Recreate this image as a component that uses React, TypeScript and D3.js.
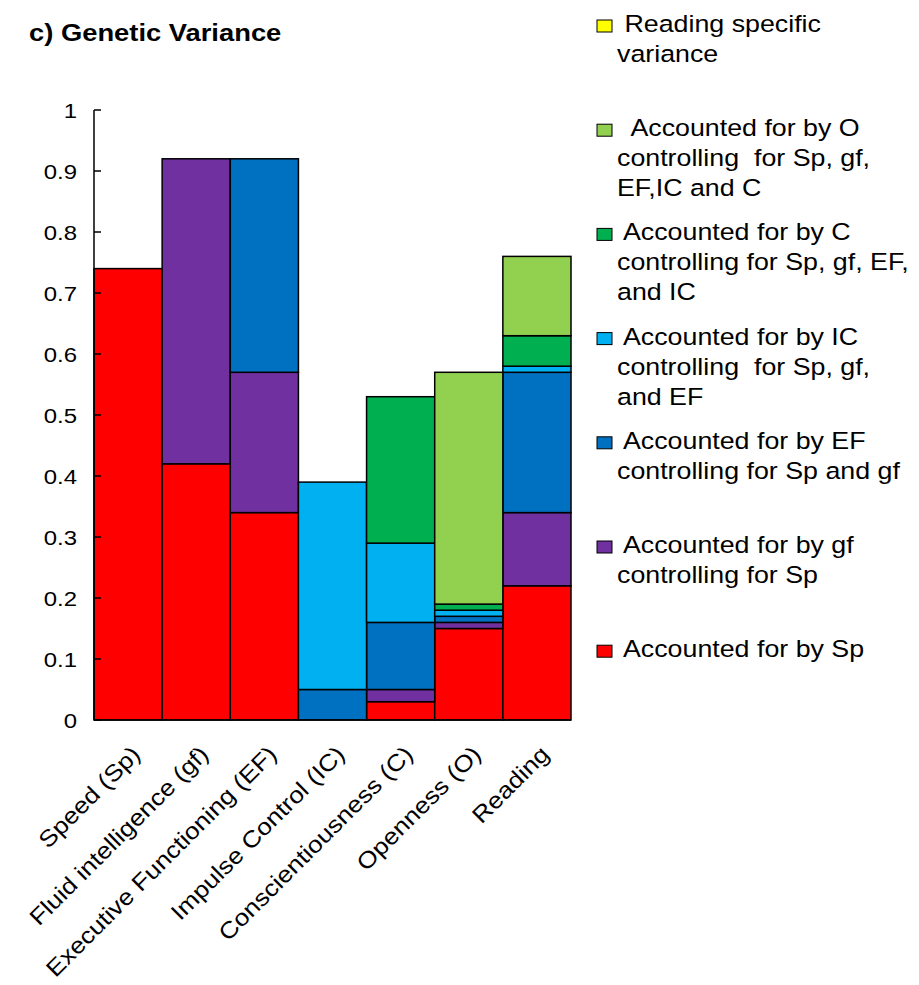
import React from "react";
import * as d3 from "d3";

const categories = [
  "Speed (Sp)",
  "Fluid intelligence (gf)",
  "Executive Functioning (EF)",
  "Impulse Control (IC)",
  "Conscientiousness (C)",
  "Openness (O)",
  "Reading",
];

const seriesKeys = ["sp", "gf", "ef", "ic", "c", "o", "rs"];
const sp = [0.74, 0.42, 0.34, 0, 0.03, 0.15, 0.22];
const gf = [0, 0.5, 0.23, 0, 0.02, 0.01, 0.12];
const ef = [0, 0, 0.35, 0.05, 0.11, 0.01, 0.23];
const ic = [0, 0, 0, 0.34, 0.13, 0.01, 0.01];
const cc = [0, 0, 0, 0, 0.24, 0.01, 0.05];
const oo = [0, 0, 0, 0, 0, 0.38, 0.13];
const rs = [0, 0, 0, 0, 0, 0, 0];

const seriesColors: Record<string, string> = {
  sp: "#FF0000",
  gf: "#7030A0",
  ef: "#0070C0",
  ic: "#00B0F0",
  c: "#00B050",
  o: "#92D050",
  rs: "#FFFF00",
};

// legend, top to bottom
const legendKeys = ["rs", "o", "c", "ic", "ef", "gf", "sp"];
const legendLabels = [
  [" Reading specific", "variance"],
  ["  Accounted for by O", "controlling  for Sp, gf,", "EF,IC and C"],
  [" Accounted for by C", "controlling for Sp, gf, EF,", "and IC"],
  [" Accounted for by IC", "controlling  for Sp, gf,", "and EF"],
  [" Accounted for by EF", "controlling for Sp and gf"],
  [" Accounted for by gf", "controlling for Sp"],
  [" Accounted for by Sp"],
];

const yTicks = [0, 0.1, 0.2, 0.3, 0.4, 0.5, 0.6, 0.7, 0.8, 0.9, 1];
const yTickLabels = ["0", "0.1", "0.2", "0.3", "0.4", "0.5", "0.6", "0.7", "0.8", "0.9", "1"];

const title = "c) Genetic Variance";

const FONT = "'Liberation Sans', Arial, sans-serif";
const SX = 1.14;

export default function App() {
  const W = 919;
  const H = 985;
  const left = 94;
  const right = 571;
  const top = 110;
  const bottom = 720;

  const x = d3.scaleBand<string>().domain(categories).range([left, right]).padding(0);
  const y = d3.scaleLinear().domain([0, 1]).range([bottom, top]);

  const valuesByKey: Record<string, number[]> = { sp, gf, ef, ic, c: cc, o: oo, rs };
  const rows = categories.map((cat, i) => {
    const r: any = { cat };
    seriesKeys.forEach((k) => (r[k] = valuesByKey[k][i]));
    return r;
  });
  const stacked = d3.stack<any>().keys(seriesKeys)(rows);

  return (
    <svg
      width={W}
      height={H}
      style={{ position: "absolute", left: 0, top: 0, background: "#fff" }}
      fontFamily={FONT}
    >
      <rect x={0} y={0} width={W} height={H} fill="#fff" />
      {/* title */}
      <text
        transform={`translate(29,41) scale(${SX},1)`}
        fontSize={24}
        fontWeight="bold"
        fill="#000"
      >
        {title}
      </text>

      {/* bars */}
      {stacked.map((layer) =>
        layer.map((d, i) => {
          const h = y(d[0]) - y(d[1]);
          if (h <= 0.01) return null;
          return (
            <rect
              key={layer.key + i}
              x={x(categories[i])!}
              y={y(d[1])}
              width={x.bandwidth()}
              height={h}
              fill={seriesColors[layer.key]}
              stroke="#000"
              strokeWidth={1.5}
            />
          );
        })
      )}

      {/* y axis */}
      <line x1={left} x2={left} y1={y(1)} y2={y(0)} stroke="#000" strokeWidth={1.5} />
      {yTicks.map((t, i) => (
        <g key={t}>
          <line x1={left} x2={left + 7} y1={y(t)} y2={y(t)} stroke="#000" strokeWidth={1.5} />
          <text
            transform={`translate(77,${y(t)}) scale(${SX},1)`}
            dy="0.36em"
            textAnchor="end"
            fontSize={21}
            fill="#000"
          >
            {yTickLabels[i]}
          </text>
        </g>
      ))}
      {/* x axis */}
      <line x1={left} x2={right} y1={bottom} y2={bottom} stroke="#000" strokeWidth={1.5} />
      {categories.map((c) => (
        <text
          key={c}
          transform={`translate(${x(c)! + x.bandwidth() / 2 + 2},744) rotate(-45) scale(1.14,1)`}
          dy="0.72em"
          textAnchor="end"
          fontSize={23}
          fill="#000"
        >
          {c}
        </text>
      ))}

      {/* legend */}
      {legendKeys.map((k, i) => {
        const base = 32 + i * 104.2;
        return (
          <g key={k}>
            <rect
              x={597}
              y={base - 12}
              width={15}
              height={12}
              fill={seriesColors[k]}
              stroke="#000"
              strokeWidth={1}
            />
            {legendLabels[i].map((line, j) => (
              <text
                key={j}
                transform={`translate(617,${base + j * 30}) scale(${SX},1)`}
                fontSize={23.5}
                fill="#000"
                style={{ whiteSpace: "pre" }}
              >
                {line}
              </text>
            ))}
          </g>
        );
      })}
    </svg>
  );
}
